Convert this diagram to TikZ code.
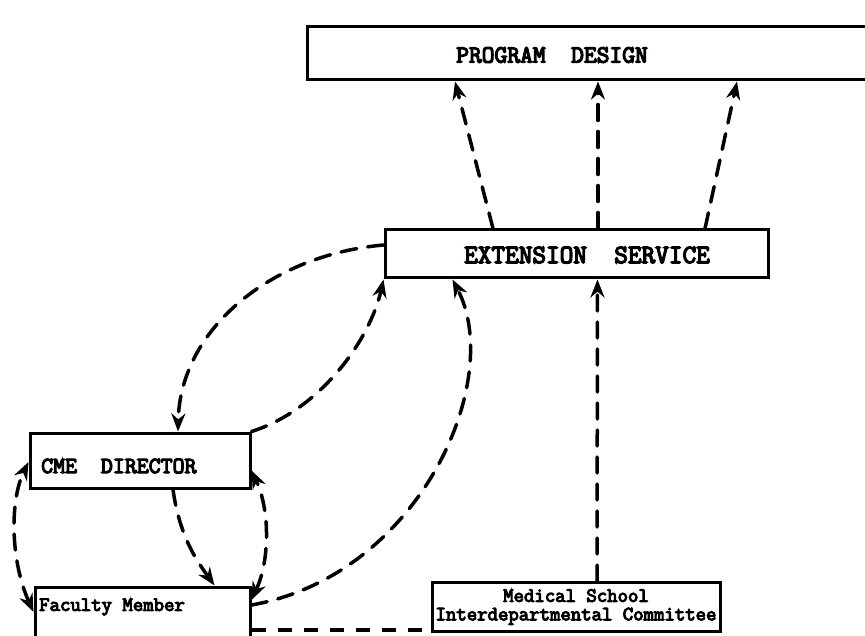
\documentclass[tikz,border=0pt]{standalone}
\usepackage{fontspec}
\newfontfamily\tw[FakeBold=5]{Latin Modern Mono}
\usetikzlibrary{arrows.meta}
\begin{document}
\begin{tikzpicture}[x=1pt,y=-1pt,
  box/.style={draw, line width=3pt, rectangle, inner sep=0pt},
  lbl/.style={inner sep=0pt, align=center},
  flow/.style={line width=3.5pt, dash pattern=on 16pt off 11pt, line cap=round},
  tip/.style={-{Stealth[length=18pt,width=14pt]}},
  tips/.style={{Stealth[length=18pt,width=14pt]}-{Stealth[length=18pt,width=14pt]}}
]
\useasboundingbox (0,0) rectangle (865,636);
\begin{scope}
\clip (0,0) rectangle (865,636);
% boxes
\node[box, minimum width=570pt, minimum height=53pt] (pd) at (592,53.5) {};
\node[lbl, font=\tw\fontsize{24.8}{26}\selectfont] (pdt) at (552,55) {PROGRAM\ \ DESIGN};
\node[box, minimum width=383pt, minimum height=48pt] (ext) at (576.5,254) {};
\node[lbl, font=\tw\fontsize{26.5}{28}\selectfont] (extt) at (587,255) {EXTENSION\ \ SERVICE};
\node[box, minimum width=220pt, minimum height=55pt] (cme) at (140,460.5) {};
\node[lbl, font=\tw\fontsize{23.2}{25}\selectfont, anchor=west] (cmet) at (41,466) {CME\ \ DIRECTOR};
\node[box, minimum width=215pt, minimum height=70pt] (fac) at (142.5,622) {};
\node[lbl, font=\tw\fontsize{20.2}{22}\selectfont, anchor=west] (fact) at (39,607) {Faculty Member};
\node[box, minimum width=288pt, minimum height=49pt] (med) at (576,607) {};
\node[lbl, font=\tw\fontsize{20.2}{18.5}\selectfont] (medt) at (576,607) {Medical School\\Interdepartmental Committee};
% connectors to program design
\draw[flow, tip] ([xshift=-83.5pt]ext.north) -- ([xshift=-137pt]pd.south);
\draw[flow, tip] ([xshift=21.5pt]ext.north) -- ([xshift=6pt]pd.south);
\draw[flow, tip] ([xshift=128.5pt]ext.north) -- ([xshift=145pt]pd.south);
% extension service <-> CME director
\draw[flow, tip] ([yshift=9pt]ext.west) .. controls (270,255) and (180,330) .. ([xshift=38pt]cme.north);
\draw[flow, tip] (cme.north east) .. controls (320,410) and (370,340) .. (ext.south west);
% faculty -> extension
\draw[flow, tip] ([yshift=17pt]fac.east) .. controls (420,575) and (505,380) .. ([xshift=-124pt]ext.south);
% medical school -> extension
\draw[flow, tip] ([xshift=21pt]med.north) -- ([xshift=21pt]ext.south);
% CME -> faculty
\draw[flow, tip] ([xshift=33pt]cme.south) .. controls (180,540) and (200,565) .. ([xshift=72pt]fac.north);
% left loop
\draw[flow, tips] ([yshift=10pt]fac.west) .. controls (10,560) and (10,500) .. ([yshift=-1.5pt]cme.west);
% right loop
\draw[flow, tips] ([yshift=22pt]fac.east) .. controls (270,560) and (270,510) .. ([yshift=-10pt]cme.east);
% bottom line faculty -- medical school
\draw[line width=4.5pt, dash pattern=on 14pt off 12pt] ([yshift=-8pt]fac.east) -- ([yshift=-23pt]med.west);
\end{scope}
\end{tikzpicture}
\end{document}
